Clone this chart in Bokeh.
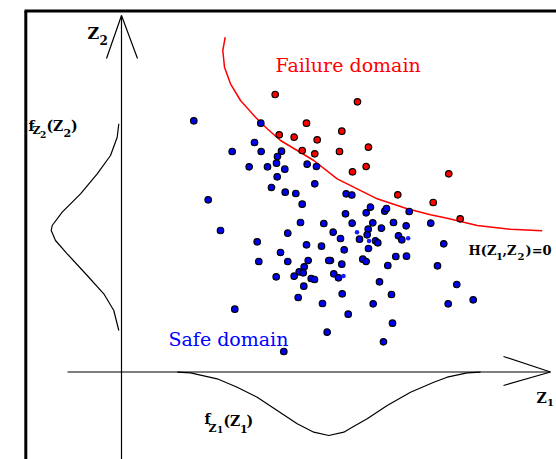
from bokeh.plotting import figure
from bokeh.models import Range1d, Label
from bokeh.embed import file_html
from bokeh.resources import INLINE

# ---- data (diagram coordinates: z1 to the right, z2 downward on the page) ----
red_z1 = [274.7, 357.0, 306.0, 278.7, 293.7, 316.7, 341.3, 368.0, 301.7, 314.3,
          339.0, 352.0, 365.7, 448.3, 397.3, 432.7, 459.7]
red_z2 = [94.0, 101.3, 122.7, 134.3, 136.7, 139.3, 130.7, 146.7, 150.0, 153.3,
          151.0, 171.3, 166.0, 173.3, 194.3, 202.0, 218.3]

blue_z1 = [193.3, 260.3, 254.0, 231.7, 260.7, 281.0, 277.0, 276.0, 248.7, 267.0,
           284.3, 276.7, 306.7, 316.0, 314.3, 271.0, 284.7, 295.3, 207.7, 301.7,
           345.7, 351.3, 370.0, 345.0, 365.7, 384.3, 386.0, 408.7, 351.7, 372.3,
           393.0, 405.7, 430.3, 381.0, 367.7, 366.7, 332.7, 340.0, 359.0, 375.0,
           377.3, 398.0, 401.3, 443.3, 343.7, 368.0, 330.0, 341.3, 362.3, 365.7,
           395.3, 406.0, 387.3, 437.0, 333.3, 338.0, 379.0, 456.3, 341.7, 391.0,
           372.7, 447.7, 472.7, 220.0, 300.0, 323.3, 287.3, 256.7, 306.0, 321.0,
           280.0, 258.3, 287.3, 307.7, 328.3, 303.7, 298.7, 302.7, 293.7, 275.7,
           310.7, 314.0, 303.3, 297.7, 322.0, 234.3, 347.7, 392.0, 326.7, 383.0,
           283.3]
blue_z2 = [120.3, 122.7, 142.0, 151.0, 151.0, 150.7, 156.0, 162.7, 166.3, 166.3,
           168.7, 176.3, 163.7, 166.0, 183.3, 187.0, 191.7, 193.0, 199.3, 203.7,
           193.3, 194.5, 206.7, 213.3, 212.3, 210.7, 208.0, 211.0, 222.7, 222.3,
           222.0, 225.3, 222.7, 227.7, 228.7, 234.3, 231.7, 238.0, 238.7, 240.3,
           242.3, 235.3, 239.3, 243.3, 249.3, 248.0, 260.0, 263.7, 258.7, 261.0,
           256.0, 255.7, 265.0, 265.3, 273.3, 277.3, 281.3, 284.0, 293.3, 294.0,
           303.3, 303.3, 299.3, 230.0, 222.0, 223.0, 232.7, 241.3, 244.3, 245.7,
           252.0, 261.0, 261.0, 260.0, 260.0, 266.3, 271.3, 272.3, 275.7, 276.3,
           278.0, 279.0, 285.7, 297.0, 303.0, 308.7, 313.7, 322.7, 331.7, 341.3,
           351.0]

small_z1 = [356.5, 368.5, 407.7, 343.0]
small_z2 = [231.7, 240.5, 237.7, 275.5]

# limit state H(Z1,Z2)=0
lim_z1 = [224.7, 222.3, 224.0, 230.0, 240.0, 255.0, 266.7, 280.0, 296.7, 313.3,
          336.7, 356.7, 376.7, 406.7, 430.0, 446.7, 476.7, 510.0, 541.7]
lim_z2 = [36.7, 50.0, 66.7, 83.3, 100.0, 116.7, 128.3, 140.0, 150.0, 160.0,
          178.3, 188.3, 198.3, 208.3, 214.3, 217.7, 225.0, 228.7, 230.3]

# marginal density of Z1 (drawn below the Z1 axis)
f1_z1 = [176.7, 190.0, 216.7, 236.7, 256.7, 276.7, 296.7, 313.3, 328.3, 343.3,
         350.0, 366.7, 386.7, 410.0, 433.3, 446.7, 466.7, 480.0]
f1_z2 = [371.7, 372.3, 378.3, 386.7, 396.7, 410.0, 423.3, 431.7, 435.0, 431.7,
         427.7, 418.3, 405.0, 391.7, 381.7, 376.7, 372.3, 371.7]

# marginal density of Z2 (drawn left of the Z2 axis)
f2_z1 = [118.3, 116.7, 110.0, 96.7, 80.0, 61.7, 51.7, 50.7, 55.0, 66.7,
         86.7, 103.3, 113.3, 118.3]
f2_z2 = [123.3, 136.7, 155.0, 173.3, 193.3, 211.7, 225.0, 230.0, 240.0, 253.3,
         275.0, 293.3, 310.0, 330.0]

W, H = 556, 459
p = figure(width=W, height=H, x_range=Range1d(0, W), y_range=Range1d(H, 0),
           output_backend="svg", toolbar_location=None, min_border=0)
p.axis.visible = False
p.grid.visible = False
p.outline_line_color = None
p.background_fill_color = "white"

# frame
p.line([25.3, 25.3], [10.5, H], line_color="black", line_width=3)
p.line([24, W], [10.5, 10.5], line_color="black", line_width=3)

# axes with arrows
p.line([121, 121], [15, H], line_color="black", line_width=1.2)
p.line([106, 121, 137], [58, 15, 58], line_color="black", line_width=1.2)
p.line([67, 550], [371.5, 371.5], line_color="black", line_width=1.2)
p.line([503, 550, 503], [356, 371.5, 385], line_color="black", line_width=1.2)

# densities
p.line(f1_z1, f1_z2, line_color="black", line_width=1.2)
p.line(f2_z1, f2_z2, line_color="black", line_width=1.2)

# limit state
p.line(lim_z1, lim_z2, line_color="#ff0000", line_width=1.5)

# samples
p.scatter(blue_z1, blue_z2, size=6.5, fill_color="#0000ee", line_color="black", line_width=1.2)
p.scatter(red_z1, red_z2, size=6.5, fill_color="#ff0000", line_color="black", line_width=1.2)
p.scatter(small_z1, small_z2, size=4.5, fill_color="#1a1aff", line_color=None)

FONT = "DejaVu Serif"

def t(x, y, s, size, color="black", bold=True):
    p.add_layout(Label(x=x, y=y, text=s, text_font=FONT,
                       text_font_size=f"{size}px",
                       text_font_style="bold" if bold else "normal",
                       text_color=color, text_baseline="alphabetic",
                       text_align="left"))

# Z2 axis label
t(87, 33, "Z", 16)
t(99, 39, "2", 12)
# f_Z2(Z2)
t(28, 125, "f", 14)
t(32, 130, "Z", 11)
t(39.5, 134, "2", 9)
t(46, 125, "(Z", 14)
t(63, 132, "2", 11)
t(70.5, 125, ")", 14)
# f_Z1(Z1)
t(204, 418, "f", 14)
t(208, 428, "Z", 11)
t(216.5, 429, "1", 9)
t(223, 420, "(Z", 14)
t(239.5, 428, "1", 11)
t(246, 420, ")", 14)
# H(Z1,Z2)=0
t(468, 250, "H(Z", 13)
t(495.5, 256, "1", 10)
t(502, 250, ",Z", 13)
t(517, 256, "2", 10)
t(525, 250, ")=0", 13)
# Z1 axis label
t(536, 397, "Z", 14)
t(546.5, 402, "1", 10)

# domains
t(275, 64, "Failure domain", 19, color="#ff0000", bold=False)
t(168, 338, "Safe domain", 19, color="#0000ff", bold=False)

open("out.html", "w").write(file_html(p, INLINE))
